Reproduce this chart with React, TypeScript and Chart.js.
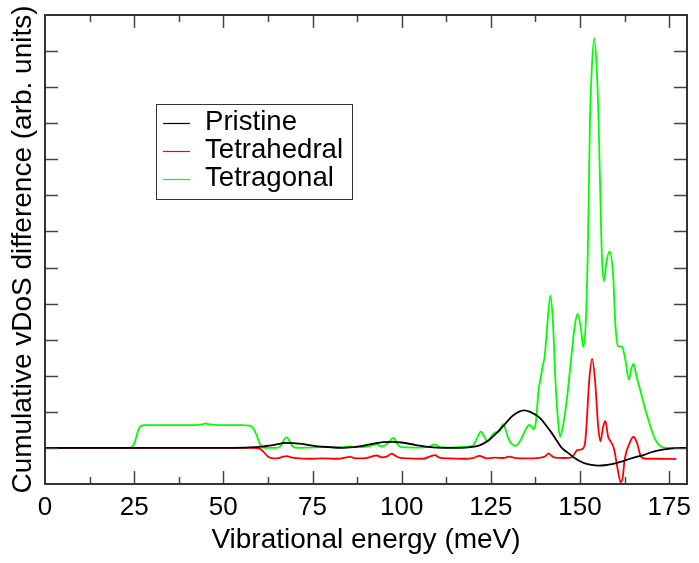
import React, { useEffect, useRef } from "react";
import { Chart, registerables } from "chart.js";

Chart.register(...registerables);

// ---- Data ----
const seriesLabels = ["Pristine", "Tetrahedral", "Tetragonal"];
const seriesColors = ["#000000", "#ff0000", "#00ff00"];

const xTickValues = [0, 25, 50, 75, 100, 125, 150, 175];

const pristineX = [0, 50, 56, 60, 64, 67.6, 72, 76.4, 80, 83.8, 88, 91, 94.9, 97.5, 100, 104, 107.9, 112, 115.3, 118, 120.8, 122.5, 124.5, 127, 129.2, 131, 132.8, 134.3, 136, 138.9, 140.5, 142.1, 143.5, 144.9, 146.8, 148.5, 150, 151.4, 153.2, 155.1, 157, 159, 161.6, 164, 166, 168, 170, 172, 173.6, 176, 178, 180];
const pristineY = [0, 0, 0.01, 0.03, 0.08, 0.14, 0.11, 0.04, 0.02, 0.0, 0.04, 0.1, 0.16, 0.17, 0.15, 0.08, 0.02, 0.0, 0.0, 0.01, 0.04, 0.1, 0.22, 0.45, 0.69, 0.88, 1.0, 1.04, 1.0, 0.82, 0.62, 0.41, 0.2, 0.0, -0.15, -0.28, -0.37, -0.43, -0.47, -0.49, -0.48, -0.45, -0.38, -0.3, -0.24, -0.19, -0.12, -0.07, -0.04, -0.01, 0, 0];

const tetrahedralX = [0, 58, 60.2, 61.2, 62.5, 63.9, 65.5, 66.8, 67.9, 69, 70.4, 74, 78, 82, 85.6, 87, 90, 93, 94.4, 95.8, 97.2, 98.3, 99.3, 102, 106, 109.3, 110.6, 113, 117, 120, 121.8, 123.8, 126, 128.5, 130.1, 132, 135, 138, 140.3, 141.2, 142, 143, 145.4, 147.7, 149.1, 150, 150.9, 151.4, 151.8, 152.6, 153.4, 154.2, 155.1, 155.7, 156.5, 157.1, 157.9, 158.6, 159.5, 160.6, 161.4, 162, 162.5, 163.9, 165, 166, 167.1, 168.5, 172, 177];
const tetrahedralY = [0, 0, -0.02, -0.1, -0.24, -0.29, -0.28, -0.24, -0.23, -0.26, -0.28, -0.3, -0.29, -0.3, -0.25, -0.29, -0.28, -0.21, -0.26, -0.24, -0.16, -0.22, -0.27, -0.29, -0.3, -0.2, -0.27, -0.29, -0.3, -0.28, -0.22, -0.29, -0.27, -0.28, -0.24, -0.28, -0.29, -0.28, -0.23, -0.15, -0.22, -0.27, -0.28, -0.26, -0.07, -0.05, -0.01, 0.13, 0.59, 1.89, 2.47, 1.89, 0.59, 0.18, 0.59, 0.75, 0.31, 0.18, -0.01, -0.61, -0.95, -0.8, -0.33, 0.13, 0.31, 0.13, -0.24, -0.3, -0.3, -0.31];

const tetragonalX = [0, 23.5, 24.5, 25.3, 26, 26.8, 28, 35, 42, 44, 45, 46, 50, 55, 57.5, 58.3, 59.3, 60.3, 61, 62, 65, 66.3, 67.1, 67.8, 68.5, 69.4, 70.5, 74, 78, 82, 85.2, 87, 90, 93, 94.4, 96, 97.7, 98.7, 99.8, 104, 107.5, 109.3, 110.8, 114, 117, 119.9, 121, 122.2, 123.2, 124.1, 125.2, 126.2, 127.3, 128.5, 129.3, 130.1, 131, 131.9, 133, 133.8, 135, 135.8, 136.5, 137, 137.6, 138.4, 138.9, 139.6, 140.1, 140.9, 141.7, 142.4, 143.1, 143.8, 144.4, 145, 145.8, 146.5, 147.2, 147.8, 148.4, 149.3, 150.3, 150.9, 151.6, 152.2, 152.8, 153.3, 154, 154.7, 155.2, 155.7, 156.1, 156.7, 157.4, 158.3, 159.3, 159.9, 160.6, 161.8, 162.7, 163.7, 164.4, 165, 165.8, 167.1, 168.5, 169.9, 171, 172.2, 173.5, 175, 177];
const tetragonalY = [0, 0, 0.04, 0.2, 0.45, 0.6, 0.63, 0.63, 0.63, 0.65, 0.68, 0.65, 0.63, 0.63, 0.62, 0.55, 0.36, 0.1, 0.02, 0.0, 0.0, 0.08, 0.24, 0.29, 0.2, 0.04, 0.0, 0.01, 0.02, 0.01, 0.04, 0.02, 0.03, 0.1, 0.04, 0.12, 0.28, 0.12, 0.02, 0.01, 0.03, 0.1, 0.02, 0.01, 0.03, 0.06, 0.25, 0.45, 0.3, 0.18, 0.33, 0.43, 0.45, 0.66, 0.45, 0.22, 0.1, 0.06, 0.16, 0.31, 0.55, 0.64, 0.58, 0.52, 0.7, 1.61, 1.89, 2.3, 2.54, 3.5, 4.22, 3.5, 1.89, 0.8, 0.31, 0.5, 0.96, 1.5, 2.17, 2.75, 3.28, 3.72, 3.28, 2.8, 3.46, 5.5, 9.1, 10.5, 11.35, 10.5, 9.1, 7.0, 5.4, 4.62, 5.15, 5.45, 4.76, 3.46, 2.83, 2.8, 2.45, 1.9, 2.2, 2.33, 2.0, 1.52, 1.0, 0.55, 0.25, 0.08, 0.01, 0, 0];

const FONT = "'Liberation Sans', Arial, Helvetica, sans-serif";

const toPoints = (xs: number[], ys: number[]) => xs.map((x, i) => ({ x, y: ys[i] }));

const framePlugin = {
  id: "frameTicksLegend",
  afterDraw(chart: any) {
    const { ctx, chartArea, scales } = chart;
    const { left, right, top, bottom } = chartArea;
    const xs = scales.x;
    const ys = scales.y;
    ctx.save();
    // inward ticks
    ctx.strokeStyle = "#444";
    ctx.lineWidth = 1.5;
    ctx.beginPath();
    for (let v = 0; v <= 180; v += 12.5) {
      const px = Math.round(xs.getPixelForValue(v)) + 0.5;
      if (px <= left + 1 || px >= right - 1) continue;
      const major = Math.abs(v % 25) < 1e-6;
      const len = major ? 13 : 7;
      ctx.moveTo(px, bottom);
      ctx.lineTo(px, bottom - len);
      ctx.moveTo(px, top);
      ctx.lineTo(px, top + len);
    }
    for (let v = -1; v <= 12; v += 1) {
      const py = Math.round(ys.getPixelForValue(v)) + 0.5;
      if (py <= top + 1 || py >= bottom - 1) continue;
      ctx.moveTo(left, py);
      ctx.lineTo(left + 13, py);
      ctx.moveTo(right, py);
      ctx.lineTo(right - 13, py);
    }
    ctx.stroke();
    // frame
    ctx.strokeStyle = "#333";
    ctx.lineWidth = 2;
    ctx.strokeRect(left, top, right - left, bottom - top);

    // legend
    const lx = 156.5, ly = 104.5, lw = 196, lh = 95;
    ctx.fillStyle = "#fff";
    ctx.fillRect(lx, ly, lw, lh);
    ctx.strokeStyle = "#333";
    ctx.lineWidth = 1;
    ctx.strokeRect(lx, ly, lw, lh);
    const rows = [122.5, 150.5, 178.5];
    ctx.font = `27.6px ${FONT}`;
    ctx.textBaseline = "middle";
    ctx.textAlign = "left";
    chart.data.datasets.forEach((ds: any, i: number) => {
      const y = rows[i];
      ctx.strokeStyle = ds.borderColor;
      ctx.lineWidth = 1.2;
      ctx.beginPath();
      ctx.moveTo(163, Math.round(y) + 0.5);
      ctx.lineTo(190, Math.round(y) + 0.5);
      ctx.stroke();
      ctx.fillStyle = "#000";
      ctx.fillText(ds.label, 205, y);
    });
    ctx.restore();
  },
};

export default function App() {
  const ref = useRef<HTMLCanvasElement>(null);
  useEffect(() => {
    if (!ref.current) return;
    const mk = (i: number, xs: number[], ys: number[]) => ({
      label: seriesLabels[i],
      data: toPoints(xs, ys),
      borderColor: seriesColors[i],
      backgroundColor: seriesColors[i],
      borderWidth: 1.8,
      pointRadius: 0,
      fill: false,
      cubicInterpolationMode: "monotone" as const,
    });
    const chart = new Chart(ref.current, {
      type: "line",
      data: {
        datasets: [
          mk(0, pristineX, pristineY),
          mk(1, tetrahedralX, tetrahedralY),
          mk(2, tetragonalX, tetragonalY),
        ],
      },
      options: {
        responsive: false,
        animation: false,
        layout: { padding: { top: 15, right: 5, left: 0, bottom: 0 } },
        plugins: { legend: { display: false }, tooltip: { enabled: false } },
        scales: {
          x: {
            type: "linear",
            min: 0,
            max: 180,
            afterFit: (s: any) => {
              s.height = 79;
            },
            afterBuildTicks: (s: any) => {
              s.ticks = xTickValues.map((v) => ({ value: v }));
            },
            grid: { display: false, drawTicks: false },
            border: { display: false },
            ticks: {
              font: { family: FONT, size: 26 },
              color: "#000",
              padding: 8,
              maxRotation: 0,
              autoSkip: false,
            },
            title: {
              display: true,
              text: "Vibrational energy (meV)",
              font: { family: FONT, size: 28 },
              color: "#000",
              padding: { top: 0, bottom: 6 },
            },
          },
          y: {
            type: "linear",
            min: -1,
            max: 12,
            afterFit: (s: any) => {
              s.width = 45;
            },
            grid: { display: false, drawTicks: false },
            border: { display: false },
            ticks: { display: false, stepSize: 1 },
            title: {
              display: true,
              text: "Cumulative vDoS difference (arb. units)",
              font: { family: FONT, size: 28 },
              color: "#000",
              padding: { top: 6, bottom: 0 },
            },
          },
        },
      },
      plugins: [framePlugin],
    });
    return () => chart.destroy();
  }, []);
  return (
    <div style={{ position: "fixed", left: 0, top: 0, width: 699, height: 563, background: "#fff" }}>
      <canvas ref={ref} width={699} height={563} style={{ display: "block" }} />
    </div>
  );
}
